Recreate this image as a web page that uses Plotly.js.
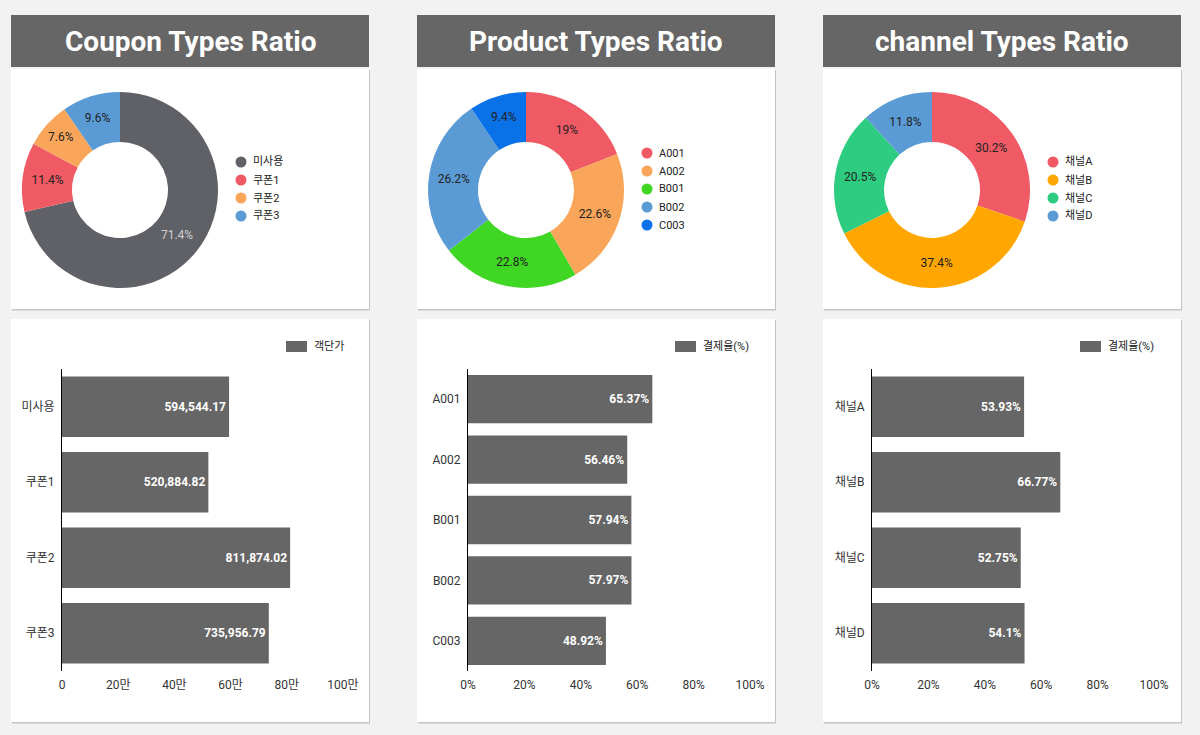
<!DOCTYPE html>
<html>
<head>
<meta charset="utf-8">
<script src="https://cdn.plot.ly/plotly-3.0.1.min.js"></script>
<style>html,body{margin:0;padding:0;background:#f2f2f2;}#chart{width:1200px;height:735px;}</style>
</head>
<body>
<div id="chart"></div>
<script>
// ---- data ----
const couponCats = ['미사용', '쿠폰1', '쿠폰2', '쿠폰3'];
const couponShare = [71.4, 11.4, 7.6, 9.6];
const couponPrice = [594544.17, 520884.82, 811874.02, 735956.79];

const productCats = ['A001', 'A002', 'B001', 'B002', 'C003'];
const productShare = [19, 22.6, 22.8, 26.2, 9.4];
const productRate = [65.37, 56.46, 57.94, 57.97, 48.92];

const channelCats = ['채널A', '채널B', '채널C', '채널D'];
const channelShare = [30.2, 37.4, 20.5, 11.8];
const channelRate = [53.93, 66.77, 52.75, 54.1];

const priceTickVals = [0, 200000, 400000, 600000, 800000, 1000000];
const priceTickText = ['0', '20만', '40만', '60만', '80만', '100만'];

const panelTitles = ['Coupon Types Ratio', 'Product Types Ratio', 'channel Types Ratio'];
const barLegendNames = ['객단가', '결제율(%)', '결제율(%)'];

// ---- styles ----
const couponColors = ['#5f6166', '#f05a64', '#f9a55a', '#5b9bd5'];
const productColors = ['#f05a64', '#f9a55a', '#3fd624', '#5b9bd5', '#0a72e8'];
const channelColors = ['#f05a64', '#ffa600', '#2ecc80', '#5b9bd5'];
const couponTextColors = ['#d0d0d0', '#222', '#222', '#222'];

const W = 1200, H = 735;
const px = x => x / W;
const py = y => 1 - y / H;
const FONT = 'Roboto, "Noto Sans CJK KR", sans-serif';
const BAR = '#666666';

const colX = [11, 417, 823];
const colW = 358;

const shapes = [];
const annotations = [];

colX.forEach((x0, i) => {
  shapes.push({type: 'rect', xref: 'paper', yref: 'paper', x0: px(x0), x1: px(x0 + colW), y0: py(67), y1: py(15), fillcolor: '#666666', line: {width: 0}, layer: 'below'});
  annotations.push({xref: 'paper', yref: 'paper', x: px(x0 + colW / 2), y: py(41), text: '<b>' + panelTitles[i] + '</b>', showarrow: false, xanchor: 'center', yanchor: 'middle', font: {family: FONT, size: 28, color: '#ffffff'}});
  [[69, 309], [319, 722]].forEach(([t, b]) => {
    shapes.push({type: 'rect', xref: 'paper', yref: 'paper', x0: px(x0 + 1), x1: px(x0 + colW + 1), y0: py(b + 1.5), y1: py(t + 1), fillcolor: '#c4c4c4', line: {width: 0}, layer: 'below'});
    shapes.push({type: 'rect', xref: 'paper', yref: 'paper', x0: px(x0), x1: px(x0 + colW), y0: py(b), y1: py(t), fillcolor: '#ffffff', line: {width: 0}, layer: 'below'});
  });
});

function pieLegend(cats, colors, lx, ly0) {
  cats.forEach((c, k) => {
    const y = ly0 + k * 18;
    shapes.push({type: 'circle', xref: 'paper', yref: 'paper', x0: px(lx - 5.5), x1: px(lx + 5.5), y0: py(y + 5.5), y1: py(y - 5.5), fillcolor: colors[k], line: {width: 0}});
    annotations.push({xref: 'paper', yref: 'paper', x: px(lx + 10), y: py(y), text: c, showarrow: false, xanchor: 'left', yanchor: 'middle', font: {family: FONT, size: 11, color: '#222'}});
  });
}
pieLegend(couponCats, couponColors, 241, 162);
pieLegend(productCats, productColors, 647, 153);
pieLegend(channelCats, channelColors, 1053, 162);

[286, 675, 1080].forEach((lx, i) => {
  shapes.push({type: 'rect', xref: 'paper', yref: 'paper', x0: px(lx), x1: px(lx + 21), y0: py(352), y1: py(341), fillcolor: BAR, line: {width: 0}});
  annotations.push({xref: 'paper', yref: 'paper', x: px(lx + 26), y: py(346.5), text: barLegendNames[i], showarrow: false, xanchor: 'left', yanchor: 'middle', font: {family: FONT, size: 11, color: '#222'}});
});

function pieTrace(labels, values, colors, cx, textColors) {
  const r = 98, cy = 190;
  return {
    type: 'pie', labels: labels, values: values, sort: false, direction: 'clockwise', rotation: 0,
    hole: 0.49, marker: {colors: colors, line: {width: 0}},
    texttemplate: '%{value}%', textposition: 'inside', insidetextorientation: 'horizontal',
    insidetextfont: {family: FONT, size: 12, color: textColors},
    domain: {x: [px(cx - r), px(cx + r)], y: [py(cy + r), py(cy - r)]},
    showlegend: false, hoverinfo: 'none'
  };
}

function barTrace(cats, vals, xa, ya, labels) {
  return {
    type: 'bar', orientation: 'h', y: cats, x: vals, xaxis: xa, yaxis: ya,
    marker: {color: BAR}, text: labels, texttemplate: '%{text}', textposition: 'inside', insidetextanchor: 'end',
    insidetextfont: {family: FONT, size: 12, color: '#ffffff', weight: 'bold'},
    textangle: 0, showlegend: false, hoverinfo: 'none', cliponaxis: false
  };
}
const fmtPrice = v => v.toLocaleString('en-US', {minimumFractionDigits: 2, maximumFractionDigits: 2});
const fmtPct = v => v + '%';

const data = [
  pieTrace(couponCats, couponShare, couponColors, 120, couponTextColors),
  pieTrace(productCats, productShare, productColors, 526, '#222'),
  pieTrace(channelCats, channelShare, channelColors, 932, '#222'),
  barTrace(couponCats, couponPrice, 'x', 'y', couponPrice.map(fmtPrice)),
  barTrace(productCats, productRate, 'x2', 'y2', productRate.map(fmtPct)),
  barTrace(channelCats, channelRate, 'x3', 'y3', channelRate.map(fmtPct))
];

const yDom = [py(671), py(369)];
function xAxis(d0, d1, anchor, extra) {
  return Object.assign({domain: [px(d0), px(d1)], anchor: anchor, range: [0, extra.max], showgrid: false, zeroline: false, showline: false, ticks: '', fixedrange: true,
    ticklabelstandoff: 5, tickfont: {family: FONT, size: 12, color: '#333'}}, extra.opts);
}
function yAxis(anchor) {
  return {domain: yDom, anchor: anchor, autorange: 'reversed', showgrid: false, zeroline: false, showline: true, linecolor: '#000', linewidth: 1, ticks: '',
    ticklabelstandoff: 4, tickfont: {family: FONT, size: 12, color: '#333'}, fixedrange: true};
}

const layout = {
  width: W, height: H, margin: {l: 0, r: 0, t: 0, b: 0},
  paper_bgcolor: '#f2f2f2', plot_bgcolor: 'rgba(0,0,0,0)',
  font: {family: FONT, color: '#333'},
  showlegend: false, bargap: 0.2,
  xaxis: xAxis(62, 343, 'y', {max: 1000000, opts: {tickvals: priceTickVals, ticktext: priceTickText}}),
  yaxis: yAxis('x'),
  xaxis2: xAxis(468, 750, 'y2', {max: 100, opts: {dtick: 20, ticksuffix: '%'}}),
  yaxis2: yAxis('x2'),
  xaxis3: xAxis(872, 1154, 'y3', {max: 100, opts: {dtick: 20, ticksuffix: '%'}}),
  yaxis3: yAxis('x3'),
  shapes: shapes, annotations: annotations
};

Plotly.newPlot('chart', data, layout, {staticPlot: true, displayModeBar: false});
</script>
</body>
</html>
